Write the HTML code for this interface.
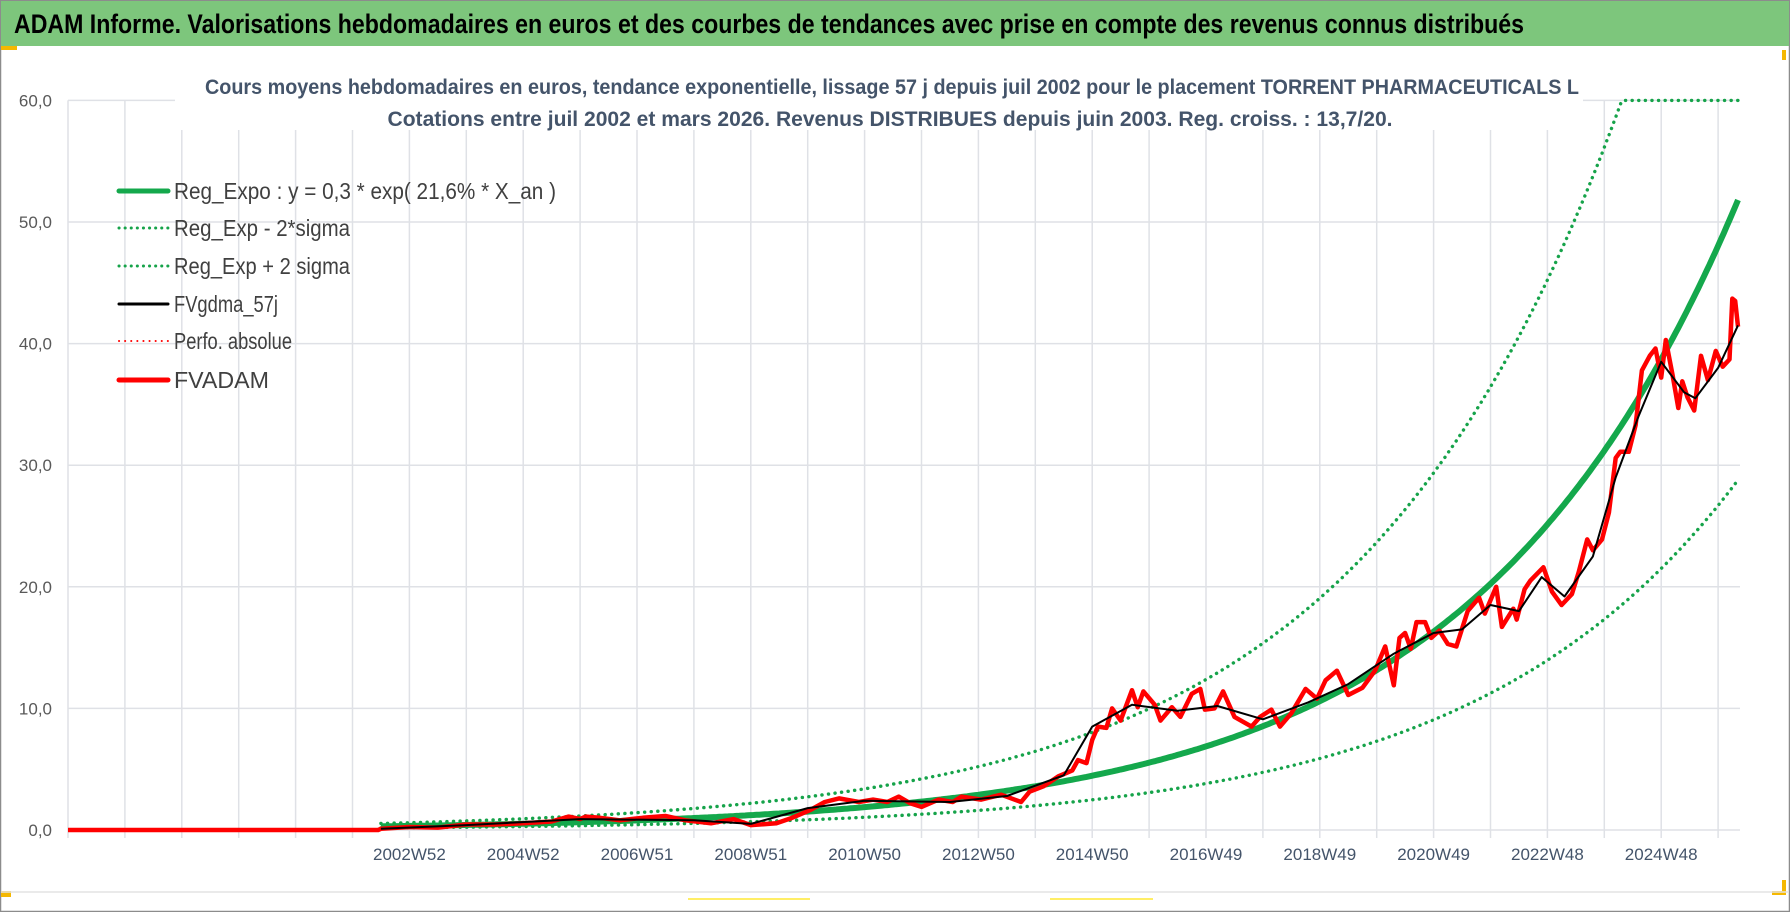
<!DOCTYPE html>
<html><head><meta charset="utf-8"><style>
html,body{margin:0;padding:0;background:#fff;}
svg{display:block;font-family:"Liberation Sans Narrow","Liberation Sans",sans-serif;}
</style></head><body>
<svg id="chart" width="1790" height="912" viewBox="0 0 1790 912">
<rect x="0" y="0" width="1790" height="912" fill="#fff"/>
<rect x="0.5" y="0.5" width="1789" height="911" fill="none" stroke="#8c8c8c" stroke-width="1.5"/>
<rect x="1" y="1" width="1788" height="45" fill="#7dc67c"/>
<text x="14" y="33" font-size="27" font-weight="bold" fill="#000" textLength="1510" lengthAdjust="spacingAndGlyphs">ADAM Informe. Valorisations hebdomadaires en euros et des courbes de tendances avec prise en compte des revenus connus distribués</text>
<rect x="1" y="46" width="16" height="4" fill="#f5b800"/>
<rect x="1" y="891" width="10" height="6" fill="#f5b800"/>
<line x1="688" y1="899" x2="810" y2="899" stroke="#ffee66" stroke-width="2"/>
<line x1="1050" y1="899" x2="1153" y2="899" stroke="#ffee66" stroke-width="2"/>
<path d="M1784 50 V60 M1772 893 H1784 V880" stroke="#f5b800" stroke-width="4" fill="none"/>
<line x1="1" y1="892" x2="1789" y2="892" stroke="#e3e3e3" stroke-width="1.5"/>
<g id="grid"></g>
<rect x="175" y="68" width="1408" height="62" fill="#fff"/>
<text x="892" y="94" font-size="21" font-weight="bold" fill="#44546a" text-anchor="middle" textLength="1374" lengthAdjust="spacingAndGlyphs">Cours moyens hebdomadaires en euros, tendance exponentielle, lissage 57 j depuis juil 2002 pour le placement TORRENT PHARMACEUTICALS L</text>
<text x="890" y="126" font-size="21" font-weight="bold" fill="#44546a" text-anchor="middle" textLength="1005" lengthAdjust="spacingAndGlyphs">Cotations entre juil 2002 et mars 2026. Revenus DISTRIBUES depuis juin 2003. Reg. croiss. : 13,7/20.</text>
<g id="axes"></g>
<g id="series"></g>
<g id="legend"></g>
</svg>
<script>
// ---- data ----
const yTicks = [0, 10, 20, 30, 40, 50, 60];
const yTickLabels = ["0,0", "10,0", "20,0", "30,0", "40,0", "50,0", "60,0"];
const xTickYears = [2003, 2005, 2007, 2009, 2011, 2013, 2015, 2017, 2019, 2021, 2023, 2025];
const xTickLabels = ["2002W52", "2004W52", "2006W51", "2008W51", "2010W50", "2012W50", "2014W50", "2016W49", "2018W49", "2020W49", "2022W48", "2024W48"];
const regA = 0.3;
const regRate = 0.216;
const sigmaFactor = 1.8;
const redT = [1997, 2002.45, 2002.5, 2003, 2003.5, 2004, 2004.5, 2005, 2005.5, 2005.8, 2006.0, 2006.1, 2006.35, 2006.7, 2007.1, 2007.5, 2007.85, 2008.3, 2008.7, 2009.0, 2009.45, 2009.7, 2010.05, 2010.3, 2010.55, 2010.9, 2011.15, 2011.4, 2011.6, 2011.8, 2012.0, 2012.3, 2012.55, 2012.7, 2013.05, 2013.4, 2013.75, 2013.9, 2014.15, 2014.4, 2014.65, 2014.75, 2014.9, 2015.0, 2015.1, 2015.25, 2015.35, 2015.5, 2015.7, 2015.8, 2015.9, 2016.1, 2016.2, 2016.4, 2016.55, 2016.75, 2016.9, 2016.98, 2017.15, 2017.3, 2017.5, 2017.8, 2017.95, 2018.15, 2018.3, 2018.5, 2018.75, 2018.95, 2019.1, 2019.3, 2019.5, 2019.75, 2019.97, 2020.15, 2020.3, 2020.4, 2020.5, 2020.6, 2020.7, 2020.85, 2020.96, 2021.1, 2021.25, 2021.4, 2021.6, 2021.8, 2021.9, 2022.1, 2022.2, 2022.4, 2022.46, 2022.6, 2022.7, 2022.93, 2023.08, 2023.25, 2023.43, 2023.55, 2023.7, 2023.8, 2023.96, 2024.08, 2024.2, 2024.28, 2024.43, 2024.55, 2024.66, 2024.8, 2024.9, 2025.0, 2025.08, 2025.2, 2025.3, 2025.37, 2025.46, 2025.58, 2025.7, 2025.82, 2025.96, 2026.08, 2026.2, 2026.25, 2026.3, 2026.35];
const redV = [0, 0, 0.1, 0.25, 0.2, 0.45, 0.45, 0.55, 0.7, 1.1, 0.9, 1.1, 1.0, 0.8, 1.0, 1.15, 0.8, 0.55, 0.9, 0.4, 0.55, 0.95, 1.65, 2.3, 2.6, 2.3, 2.5, 2.3, 2.75, 2.2, 1.9, 2.5, 2.3, 2.75, 2.5, 2.9, 2.3, 3.15, 3.6, 4.4, 4.9, 5.75, 5.5, 7.4, 8.5, 8.4, 10.0, 9.0, 11.5, 10.1, 11.4, 10.3, 9.0, 10.1, 9.3, 11.2, 11.6, 9.9, 10.0, 11.4, 9.3, 8.5, 9.3, 9.9, 8.5, 9.6, 11.6, 10.8, 12.3, 13.1, 11.1, 11.7, 13.1, 15.1, 11.9, 15.8, 16.2, 14.9, 17.1, 17.1, 15.8, 16.4, 15.3, 15.1, 18.0, 19.1, 17.8, 20.0, 16.7, 18.2, 17.3, 19.8, 20.5, 21.6, 19.6, 18.5, 19.4, 21.2, 23.9, 23.0, 23.9, 26.1, 30.6, 31.1, 31.1, 33.3, 37.8, 39.0, 39.6, 37.2, 40.3, 37.4, 34.7, 36.9, 35.6, 34.5, 39.0, 37.0, 39.4, 38.1, 38.7, 43.7, 43.5, 41.4];
const blackT = [2002.5, 2004, 2006, 2008, 2009, 2010, 2011, 2012.5, 2013.5, 2014.5, 2015, 2015.7, 2016.5, 2017.2, 2018, 2018.8, 2019.5, 2020.3, 2021, 2021.5, 2022, 2022.5, 2022.9, 2023.3, 2023.8, 2024.2, 2024.6, 2025, 2025.4, 2025.6, 2026, 2026.35];
const blackV = [0.1, 0.4, 0.9, 0.8, 0.5, 1.8, 2.4, 2.3, 2.8, 4.5, 8.5, 10.3, 9.8, 10.2, 9.1, 10.5, 12, 14.5, 16.2, 16.5, 18.5, 18, 20.8, 19.2, 22.5, 29, 34, 38.5, 36, 35.5, 38, 41.5];
const regStart = 2002.5, regEnd = 2026.35;

// ---- scales ----
const X0 = 68, YEAR_W = 56.9, Y0 = 830, UNIT = 12.16;
function xs(t){ return X0 + (t - 1997) * YEAR_W; }
function ys(v){ return Y0 - v * UNIT; }
const NS = "http://www.w3.org/2000/svg";
function mk(tag, attrs, parent){
  const e = document.createElementNS(NS, tag);
  for (const k in attrs) e.setAttribute(k, attrs[k]);
  parent.appendChild(e); return e;
}
const grid = document.getElementById('grid');
const axes = document.getElementById('axes');
const series = document.getElementById('series');
const legend = document.getElementById('legend');
const xMaxPix = 1740;

for (let i = 0; i < yTicks.length; i++) {
  const y = ys(yTicks[i]);
  const gl = mk('line', {x1: X0, x2: xMaxPix, y1: y, y2: y, stroke: '#dfe1e6', 'stroke-width': 1.5}, grid);
  
  
  const tl = mk('text', {x: 52, y: y + 6, 'font-size': 17, fill: '#595959', 'text-anchor': 'end'}, axes);
  tl.textContent = yTickLabels[i];
  
  
}
for (let k = 0; k <= 29; k++) {
  const x = xs(1997 + k);
  const vl = mk('line', {x1: x, x2: x, y1: ys(60), y2: Y0 + 8, stroke: '#dfe1e6', 'stroke-width': 1.5}, grid);
  
  
}
for (let i = 0; i < xTickYears.length; i++) {
  const t = mk('text', {x: xs(xTickYears[i]), y: 860, 'font-size': 17, fill: '#44546a', 'text-anchor': 'middle'}, axes);
  t.textContent = xTickLabels[i];
  
  
}

function pathFrom(ts, vs){
  let d = '';
  for (let i = 0; i < ts.length; i++) d += (i ? 'L' : 'M') + xs(ts[i]).toFixed(1) + ' ' + ys(vs[i]).toFixed(1);
  return d;
}
function regPath(mult){
  let d = '';
  for (let t = regStart, i = 0; t <= regEnd + 1e-9; t += 0.05, i++) {
    const v = Math.min(60, regA * Math.exp(regRate * (t - regStart)) * mult);
    d += (i ? 'L' : 'M') + xs(t).toFixed(1) + ' ' + ys(v).toFixed(1);
  }
  return d;
}
const up = mk('path', {d: regPath(sigmaFactor), fill: 'none', stroke: '#16a34a', 'stroke-width': 3.4, 'stroke-dasharray': '0.1 6.5', 'stroke-linecap': 'round'}, series);


const lo = mk('path', {d: regPath(1 / sigmaFactor), fill: 'none', stroke: '#16a34a', 'stroke-width': 3.4, 'stroke-dasharray': '0.1 6.5', 'stroke-linecap': 'round'}, series);


const reg = mk('path', {d: regPath(1), fill: 'none', stroke: '#14a84c', 'stroke-width': 6}, series);


const red = mk('path', {d: pathFrom(redT, redV), fill: 'none', stroke: '#ff0000', 'stroke-width': 4.5, 'stroke-linejoin': 'round'}, series);


const blk = mk('path', {d: pathFrom(blackT, blackV), fill: 'none', stroke: '#000', 'stroke-width': 2, 'stroke-linejoin': 'round'}, series);



// legend
const legLabels = ["Reg_Expo : y = 0,3 * exp( 21,6% *  X_an )", "Reg_Exp - 2*sigma", "Reg_Exp + 2 sigma", "FVgdma_57j", "Perfo. absolue", "FVADAM"];
const legWidths = [382, 176, 176, 104, 118, 95];
const legColors = ['#14a84c', '#16a34a', '#16a34a', '#000', '#ff0000', '#ff0000'];
const legDotted = [false, true, true, false, true, false];
const legStroke = [5, 3, 3, 3, 2, 5];
const legY = [191, 228, 266, 304, 341, 380];
for (let i = 0; i < legLabels.length; i++) {
  const g = mk('g', {}, legend);
  
  
  const a = {x1: 119, x2: 168, y1: legY[i], y2: legY[i], stroke: legColors[i], 'stroke-width': legStroke[i], 'stroke-linecap': 'round'};
  if (legDotted[i]) { a['stroke-dasharray'] = '0.1 6'; }
  const ln = mk('line', a, g);
  
  
  const tx = mk('text', {x: 174, y: legY[i] + 8, 'font-size': 23, fill: '#404040', textLength: legWidths[i], lengthAdjust: 'spacingAndGlyphs'}, g);
  tx.textContent = legLabels[i];
  
  
}
</script>
</body></html>
